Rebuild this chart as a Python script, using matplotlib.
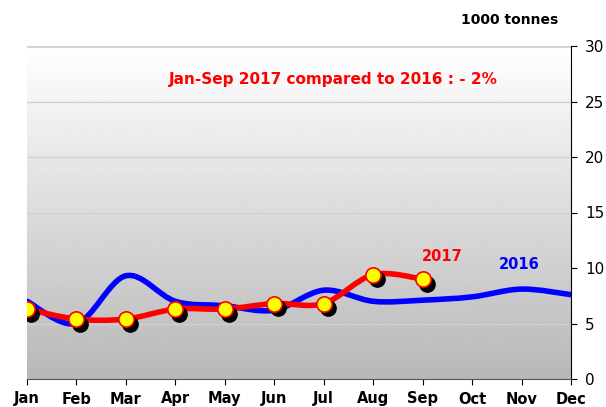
import numpy as np
import matplotlib.pyplot as plt
from matplotlib.path import Path
from matplotlib.patches import PathPatch

months = ["Jan", "Feb", "Mar", "Apr", "May", "Jun",
          "Jul", "Aug", "Sep", "Oct", "Nov", "Dec"]
y2016 = [7.0, 5.0, 9.3, 7.0, 6.6, 6.2, 8.0, 7.0, 7.1, 7.4, 8.1, 7.6]
y2017 = [6.3, 5.4, 5.4, 6.3, 6.3, 6.8, 6.8, 9.4, 9.0]
yticks = [0, 5, 10, 15, 20, 25, 30]


def smooth_path(xs, ys):
    # excel-like smoothed line: bezier segments with catmull-rom control points
    pts = np.column_stack([xs, ys]).astype(float)
    n = len(pts)
    verts = [pts[0]]
    codes = [Path.MOVETO]
    for i in range(n - 1):
        p0 = pts[max(i - 1, 0)]
        p1 = pts[i]
        p2 = pts[i + 1]
        p3 = pts[min(i + 2, n - 1)]
        c1 = p1 + (p2 - p0) / 6.0
        c2 = p2 - (p3 - p1) / 6.0
        verts += [c1, c2, p2]
        codes += [Path.CURVE4] * 3
    return Path(verts, codes)


fig = plt.figure(figsize=(6.06, 4.07), dpi=100)
ax = fig.add_axes([27 / 606, 28 / 407, 544 / 606, 333 / 407])

x = np.arange(len(months))
ax.set_xlim(0, 11)
ax.set_ylim(0, 30)

# gradient background
grad = np.linspace(0.72, 1.0, 256).reshape(-1, 1)
ax.imshow(grad, extent=[0, 11, 0, 30], origin="lower", aspect="auto",
          cmap="gray", vmin=0, vmax=1, zorder=0)

for v in yticks[1:]:
    ax.axhline(v, color="#d0d0d0", lw=1.0 if v < 30 else 2.0, zorder=1)

ax.add_patch(PathPatch(smooth_path(x, y2016), facecolor="none",
                       edgecolor="#0000ff", lw=4.0, zorder=3, capstyle="round"))
x17 = np.arange(len(y2017))
ax.add_patch(PathPatch(smooth_path(x17, y2017), facecolor="none",
                       edgecolor="#ff0000", lw=4.0, zorder=4, capstyle="round"))

# marker shadows
ax.plot(x17 + 0.08, np.array(y2017) - 0.42, "o", color="black", ms=11, zorder=5)
ax.plot(x17, y2017, "o", mfc="#ffff00", mec="#ff0000", mew=1.2, ms=11, zorder=6)

ax.text(6.2, 27.0, "Jan-Sep 2017 compared to 2016 : - 2%", color="#ff0000",
        fontsize=11, fontweight="bold", ha="center", va="center")
ax.text(8.4, 11.0, "2017", color="#ff0000", fontsize=10.5, fontweight="bold",
        ha="center", va="center")
ax.text(9.95, 10.3, "2016", color="#0000ff", fontsize=10.5, fontweight="bold",
        ha="center", va="center")
fig.text(510 / 606, 1 - 20 / 407, "1000 tonnes", fontsize=10, fontweight="bold",
         ha="center", va="center")

ax.set_xticks(x)
ax.set_xticklabels(months, fontsize=10.5, fontweight="bold")
ax.yaxis.tick_right()
ax.set_yticks(yticks)
ax.tick_params(axis="y", labelsize=11, length=4, pad=6)
ax.tick_params(axis="x", length=4, pad=5)
ax.spines["top"].set_visible(False)
ax.spines["left"].set_visible(False)
ax.spines["bottom"].set_color("#555555")

fig.savefig("out.png", dpi=100)
